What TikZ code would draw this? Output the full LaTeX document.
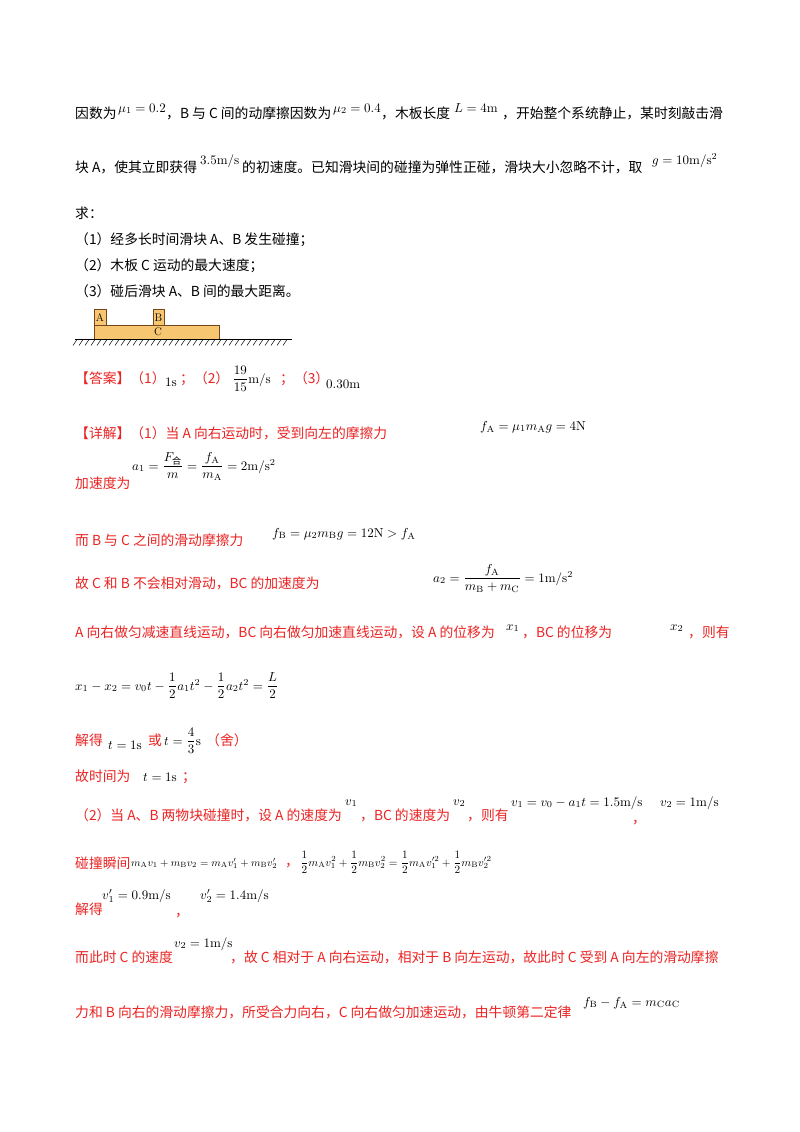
\documentclass[tikz,border=0pt]{standalone}
\usepackage{amsmath}
\usepackage{graphicx}
\usepackage{fontspec}
\newfontfamily\cjk{Noto Sans CJK SC}
\newcommand\mmath[1]{\scalebox{1.3}{$#1$}}
\definecolor{ansred}{RGB}{235,35,35}
\definecolor{boxfill}{RGB}{247,198,112}
\definecolor{boxedge}{RGB}{120,70,30}
\begin{document}
\begin{tikzpicture}[x=1pt,y=-1pt,
  t/.style={anchor=base west,inner sep=0pt,font=\cjk\fontsize{13.8}{16}\selectfont},
  r/.style={t,text=ansred},
  m/.style={anchor=base west,inner sep=0pt}]
\useasboundingbox[fill=white] (0,0) rectangle (800,1132);
% question
\node[t] (q1a) at (75,118) {因数为};
\node[m] (q1b) at (118,112) {\mmath{\mu_1=0.2}};
\node[t] (q1c) at (166,118) {，B 与 C 间的动摩擦因数为};
\node[m] (q1d) at (333,112) {\mmath{\mu_2=0.4}};
\node[t] (q1e) at (381,118) {，木板长度};
\node[m] (q1f) at (454,112) {\mmath{L=4\mathrm{m}}};
\node[t] (q1g) at (502,118) {，开始整个系统静止，某时刻敲击滑};
\node[t] (q2a) at (75,172) {块 A，使其立即获得};
\node[m] (q2b) at (200,164) {\mmath{3.5\mathrm{m/s}}};
\node[t] (q2c) at (242,172) {的初速度。已知滑块间的碰撞为弹性正碰，滑块大小忽略不计，取};
\node[m] (q2d) at (652,164) {\mmath{g=10\mathrm{m/s^2}}};
\node[t] (q3) at (75,218) {求：};
\node[t] (q4) at (75,244) {（1）经多长时间滑块 A、B 发生碰撞；};
\node[t] (q5) at (75,270) {（2）木板 C 运动的最大速度；};
\node[t] (q6) at (75,296) {（3）碰后滑块 A、B 间的最大距离。};
% figure
\draw[boxedge,fill=boxfill,line width=0.6pt] (94,325) rectangle (219,339);
\draw[boxedge,fill=boxfill,line width=0.6pt] (94,309) rectangle (106,325);
\draw[boxedge,fill=boxfill,line width=0.6pt] (153,309) rectangle (164,325);
\node[inner sep=0pt,font=\fontsize{11}{12}\selectfont] (la) at (100,317.5) {A};
\node[inner sep=0pt,font=\fontsize{11}{12}\selectfont] (lb) at (158.5,317.5) {B};
\node[inner sep=0pt,font=\fontsize{11}{12}\selectfont] (lc) at (158,332) {C};
\draw[line width=0.8pt] (75,339.5) -- (292,339.5);
\foreach \i in {0,...,35} \draw[line width=0.5pt] (77+6*\i,339.5) -- ++(-4,6);
% answer
\node[r] (an1) at (75,383) {【答案】（1）};
\node[m] (an2) at (165,386) {\mmath{1\mathrm{s}}};
\node[r] (an3) at (180,383) {；（2）};
\node[m] (an4) at (232,383) {\mmath{\dfrac{19}{15}\mathrm{m/s}}};
\node[r] (an5) at (280,383) {；（3）};
\node[m] (an6) at (326,388) {\mmath{0.30\mathrm{m}}};
% detail
\node[r] (d1) at (75,438) {【详解】（1）当 A 向右运动时，受到向左的摩擦力};
\node[m] (d1f) at (480,430) {\mmath{f_{\mathrm A}=\mu_1 m_{\mathrm A} g=4\mathrm{N}}};
\node[r] (d2) at (75,488) {加速度为};
\node[m] (d2f) at (132,470) {\mmath{a_1=\dfrac{F_{\text{\cjk 合}}}{m}=\dfrac{f_{\mathrm A}}{m_{\mathrm A}}=2\mathrm{m/s^2}}};
\node[r] (d3) at (75,545) {而 B 与 C 之间的滑动摩擦力};
\node[m] (d3f) at (272,537) {\mmath{f_{\mathrm B}=\mu_2 m_{\mathrm B} g=12\mathrm{N}>f_{\mathrm A}}};
\node[r] (d4) at (75,588) {故 C 和 B 不会相对滑动，BC 的加速度为};
\node[m] (d4f) at (433,582) {\mmath{a_2=\dfrac{f_{\mathrm A}}{m_{\mathrm B}+m_{\mathrm C}}=1\mathrm{m/s^2}}};
\node[r] (d5) at (75,637) {A 向右做匀减速直线运动，BC 向右做匀加速直线运动，设 A 的位移为};
\node[m] (d5a) at (506,630) {\mmath{x_1}};
\node[r] (d5b) at (522,637) {，BC 的位移为};
\node[m] (d5c) at (670,630) {\mmath{x_2}};
\node[r] (d5d) at (688,637) {，则有};
\node[m] (d6f) at (75,690) {\mmath{x_1-x_2=v_0t-\dfrac12a_1t^2-\dfrac12a_2t^2=\dfrac L2}};
\node[r] (d7) at (75,745) {解得};
\node[m] (d7a) at (108,749) {\mmath{t=1\mathrm{s}}};
\node[r] (d7b) at (148,745) {或};
\node[m] (d7c) at (164,745) {\mmath{t=\dfrac43\mathrm{s}}};
\node[r] (d7d) at (206,745) {（舍）};
\node[r] (d8) at (75,781) {故时间为};
\node[m] (d8a) at (143,781) {\mmath{t=1\mathrm{s}}};
\node[r] (d8b) at (182,781) {；};
\node[r] (d9) at (75,820) {（2）当 A、B 两物块碰撞时，设 A 的速度为};
\node[m] (d9a) at (345,805) {\mmath{v_1}};
\node[r] (d9b) at (360,820) {，BC 的速度为};
\node[m] (d9c) at (453,805) {\mmath{v_2}};
\node[r] (d9d) at (467,820) {，则有};
\node[m] (d9e) at (511,806) {\mmath{v_1=v_0-a_1t=1.5\mathrm{m/s}}};
\node[r] (d9f) at (632,823) {，};
\node[m] (d9g) at (660,806) {\mmath{v_2=1\mathrm{m/s}}};
\node[r] (d10) at (75,868) {碰撞瞬间};
\node[m] (d10a) at (131,866) {\scalebox{1.08}{$m_{\mathrm A}v_1+m_{\mathrm B}v_2=m_{\mathrm A}v_1'+m_{\mathrm B}v_2'$}};
\node[r] (d10b) at (285,866) {，};
\node[m] (d10c) at (300,866) {\scalebox{1.12}{$\dfrac12m_{\mathrm A}v_1^2+\dfrac12m_{\mathrm B}v_2^2=\dfrac12m_{\mathrm A}v_1'^2+\dfrac12m_{\mathrm B}v_2'^2$}};
\node[r] (d11) at (75,914) {解得};
\node[m] (d11a) at (102,899) {\mmath{v_1'=0.9\mathrm{m/s}}};
\node[r] (d11b) at (175,916) {，};
\node[m] (d11c) at (200,899) {\mmath{v_2'=1.4\mathrm{m/s}}};
\node[r] (d12) at (75,962) {而此时 C 的速度};
\node[m] (d12a) at (174,947) {\mmath{v_2=1\mathrm{m/s}}};
\node[r] (d12b) at (230,962) {，故 C 相对于 A 向右运动，相对于 B 向左运动，故此时 C 受到 A 向左的滑动摩擦};
\node[r] (d13) at (75,1017) {力和 B 向右的滑动摩擦力，所受合力向右，C 向右做匀加速运动，由牛顿第二定律};
\node[m] (d13a) at (583,1006) {\mmath{f_{\mathrm B}-f_{\mathrm A}=m_{\mathrm C}a_{\mathrm C}}};
\end{tikzpicture}
\end{document}
